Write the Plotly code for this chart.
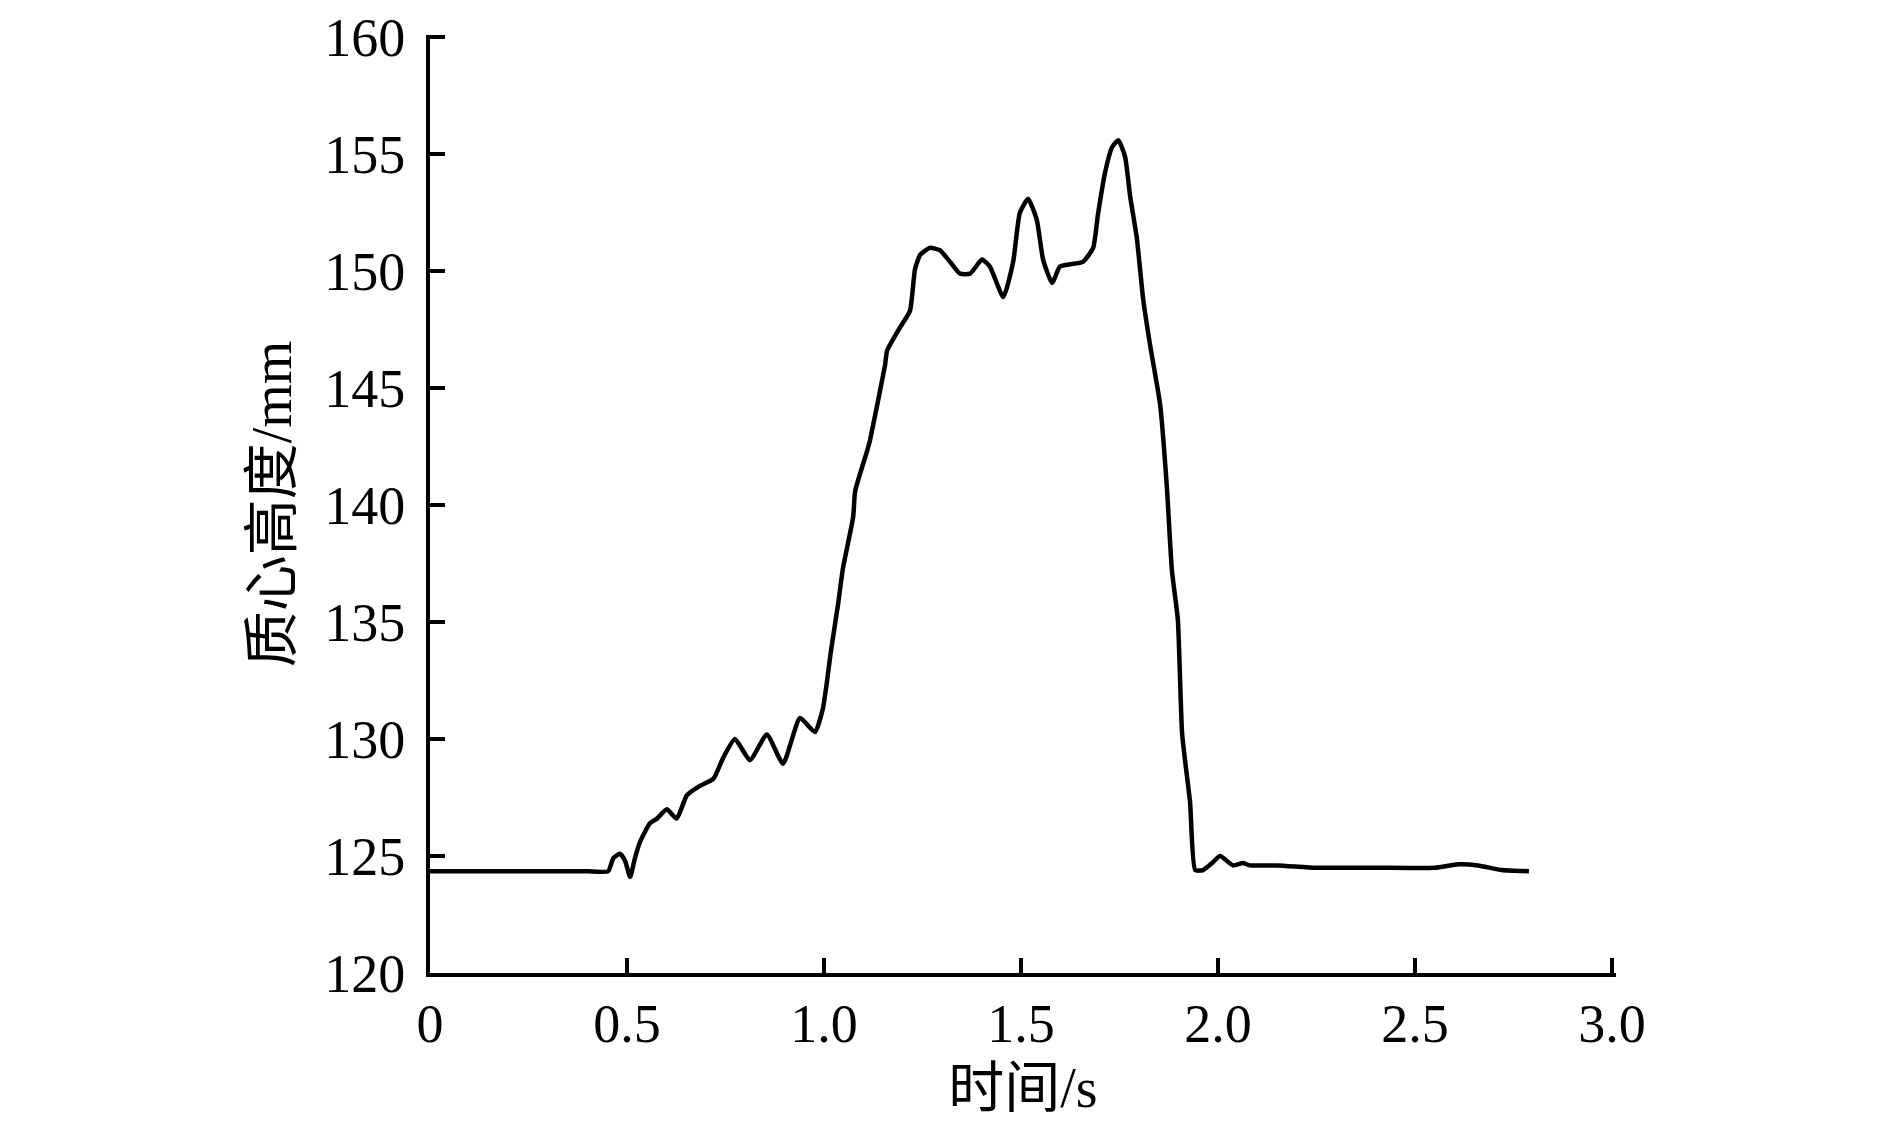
import plotly.graph_objects as go

# time (s)
time_s = [0.0, 0.10, 0.20, 0.30, 0.40, 0.452, 0.465, 0.482, 0.495, 0.508, 0.52, 0.533, 0.558, 0.576,
          0.601, 0.626, 0.652, 0.685, 0.719, 0.744, 0.774, 0.812, 0.855, 0.896, 0.939,
          0.977, 0.997, 1.007, 1.017, 1.036, 1.048, 1.074, 1.079, 1.109, 1.117, 1.155, 1.160,
          1.193, 1.218, 1.231, 1.244, 1.269, 1.294, 1.320, 1.345, 1.371, 1.401, 1.421,
          1.455, 1.480, 1.497, 1.518, 1.540, 1.556, 1.579, 1.599, 1.657, 1.683, 1.695,
          1.713, 1.731, 1.747, 1.764, 1.777, 1.794, 1.810, 1.827, 1.853, 1.870, 1.883,
          1.898, 1.909, 1.929, 1.942, 1.962, 1.985, 2.005, 2.038, 2.063, 2.081, 2.15,
          2.25, 2.40, 2.55, 2.61, 2.66, 2.72, 2.789]
# centre-of-mass height (mm)
height_mm = [124.35, 124.35, 124.35, 124.35, 124.35, 124.35, 124.9, 125.1, 124.8, 124.1, 124.9, 125.6, 126.4, 126.6,
             127.0, 126.6, 127.6, 128.0, 128.3, 129.2, 130.0, 129.1, 130.2, 128.95, 130.9,
             130.3, 131.3, 132.4, 133.7, 135.8, 137.3, 139.5, 140.6, 142.3, 142.8, 146.0, 146.6,
             147.6, 148.3, 150.1, 150.7, 151.0, 150.9, 150.4, 149.9, 149.9, 150.5, 150.2,
             148.9, 150.4, 152.5, 153.1, 152.2, 150.5, 149.5, 150.2, 150.4, 151.0, 152.4,
             154.2, 155.3, 155.6, 154.9, 153.2, 151.4, 148.8, 146.9, 144.3, 140.8, 137.2,
             135.1, 130.2, 127.3, 124.4, 124.4, 124.7, 125.0, 124.6, 124.7, 124.6, 124.6,
             124.5, 124.5, 124.5, 124.65, 124.6, 124.4, 124.35]

x_tickvals = [0, 0.5, 1.0, 1.5, 2.0, 2.5, 3.0]
x_ticktext = ["0", "0.5", "1.0", "1.5", "2.0", "2.5", "3.0"]
y_tickvals = [120, 125, 130, 135, 140, 145, 150, 155, 160]

FONT = "Liberation Serif, Noto Sans CJK SC, serif"

fig = go.Figure()
fig.add_trace(go.Scatter(x=time_s, y=height_mm, mode="lines",
                         line=dict(color="black", width=4.5, shape="spline", smoothing=0.5),
                         showlegend=False))

fig.update_layout(
    width=1890, height=1131,
    margin=dict(l=422, r=282, t=27, b=166),
    paper_bgcolor="white", plot_bgcolor="white",
    font=dict(family=FONT, size=54, color="black"),
)
fig.update_xaxes(
    range=[0, 3.01], tickvals=x_tickvals, ticktext=x_ticktext,
    showline=True, linecolor="black", linewidth=4,
    ticks="inside", ticklen=15, tickwidth=4, tickcolor="black",
    showgrid=False, zeroline=False, ticklabelstandoff=0, automargin=False,
    ticklabeloverflow="allow",
    title=dict(text="时间/s", font=dict(family=FONT, size=56), standoff=16),
)
fig.update_yaxes(
    range=[120, 160.1], tickvals=y_tickvals,
    showline=True, linecolor="black", linewidth=4,
    ticks="inside", ticklen=15, tickwidth=4, tickcolor="black",
    showgrid=False, zeroline=False, ticklabelstandoff=10, automargin=False,
    ticklabeloverflow="allow",
    title=dict(text="质心高度/mm", font=dict(family=FONT, size=56), standoff=16),
)

fig.write_html("out.html")
